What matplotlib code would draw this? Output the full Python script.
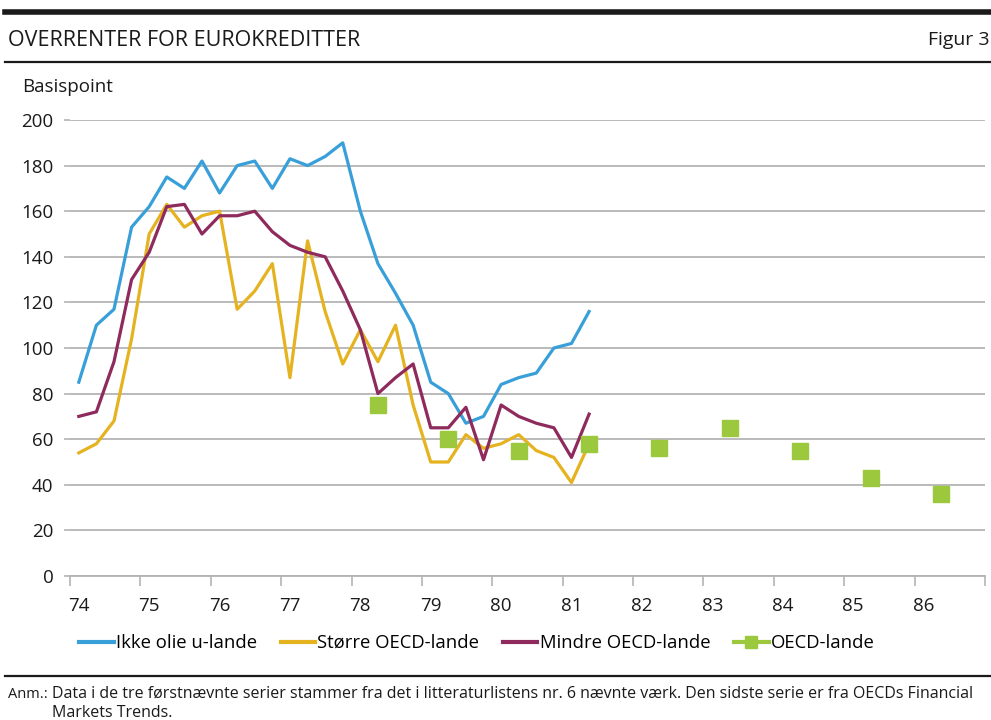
import numpy as np
import matplotlib
matplotlib.use("Agg")
import matplotlib.pyplot as plt
from matplotlib.lines import Line2D

plt.rcParams['font.family'] = ['Open Sans', 'DejaVu Sans']

# quarterly series 74Q1 - 81Q2
ikke_olie = [85, 110, 117, 153, 162, 175, 170, 182, 168, 180, 182, 170,
             183, 180, 184, 190, 160, 137, 124, 110, 85, 80, 67, 70,
             84, 87, 89, 100, 102, 116]
stoerre = [54, 58, 68, 104, 150, 163, 153, 158, 160, 117, 125, 137,
           87, 147, 116, 93, 108, 94, 110, 75, 50, 50, 62, 56,
           58, 62, 55, 52, 41, 58]
mindre = [70, 72, 94, 130, 142, 162, 163, 150, 158, 158, 160, 151,
          145, 142, 140, 125, 108, 80, 87, 93, 65, 65, 74, 51,
          75, 70, 67, 65, 52, 71]
# annual series, plotted at 2nd quarter
oecd_years = [78, 79, 80, 81, 82, 83, 84, 85, 86]
oecd = [75, 60, 55, 58, 56, 65, 55, 43, 36]

years = list(range(74, 87))
year_labels = [str(y) for y in years]

q = np.arange(len(ikke_olie))
xq = 74 + (q + 0.5) / 4.0
xo = np.array(oecd_years) + 1.5 / 4.0

c_blue = '#389fd9'
c_yel = '#e5b220'
c_pur = '#8e2a5c'
c_grn = '#9bc83c'
txt = '#1a1a1a'

W, H = 991, 720
fig = plt.figure(figsize=(W / 100, H / 100), dpi=100)

ax = fig.add_axes([70 / W, (H - 576) / H, 915 / W, 456 / H])
ax.plot(xq, ikke_olie, color=c_blue, lw=2.3, zorder=3)
ax.plot(xq, stoerre, color=c_yel, lw=2.3, zorder=3)
ax.plot(xq, mindre, color=c_pur, lw=2.3, zorder=3)
ax.plot(xo, oecd, ls='none', marker='s', ms=11, color=c_grn, zorder=4)

ax.set_xlim(74, 87)
ax.set_ylim(0, 200)
ax.set_yticks(range(0, 201, 20))
ax.yaxis.grid(True, color='#b4b4b4', lw=1.3)
ax.set_axisbelow(True)
ax.set_xticks(years + [87])
ax.set_xticklabels([])
ax.set_xticks(np.array(years) + 0.125, minor=True)
ax.set_xticklabels(year_labels, minor=True)
ax.tick_params(axis='x', which='major', length=7, width=1.2, color='#b4b4b4')
ax.tick_params(axis='x', which='minor', length=0, pad=15, labelsize=13.5, labelcolor=txt)
ax.tick_params(axis='y', length=4, width=1.2, color='#b4b4b4', pad=8,
               labelsize=13.5, labelcolor=txt)
for s in ['top', 'right', 'left']:
    ax.spines[s].set_visible(False)
ax.spines['bottom'].set_color('#b4b4b4')
ax.spines['bottom'].set_linewidth(1.3)

handles = [Line2D([], [], color=c_blue, lw=3),
           Line2D([], [], color=c_yel, lw=3),
           Line2D([], [], color=c_pur, lw=3),
           Line2D([], [], color=c_grn, lw=3, marker='s', ms=9)]
labels = ['Ikke olie u-lande', 'Større OECD-lande', 'Mindre OECD-lande', 'OECD-lande']
fig.legend(handles, labels, loc='center left', bbox_to_anchor=(72 / W, 1 - 643 / H),
           ncol=4, frameon=False, fontsize=13.3, handlelength=1.85,
           handletextpad=0.12, columnspacing=1.3, borderaxespad=0)

# header / footer
fig.add_artist(Line2D([5 / W, 1], [1 - 12 / H, 1 - 12 / H], color=txt, lw=4))
fig.add_artist(Line2D([5 / W, 1], [1 - 62 / H, 1 - 62 / H], color=txt, lw=1.6))
fig.add_artist(Line2D([5 / W, 1], [1 - 676 / H, 1 - 676 / H], color=txt, lw=1.6))
fig.text(8 / W, 1 - 40 / H, 'OVERRENTER FOR EUROKREDITTER', fontsize=15.5,
         va='center', ha='left', color=txt)
fig.text(990 / W, 1 - 40 / H, 'Figur 3', fontsize=14, va='center', ha='right', color=txt)
fig.text(22 / W, 1 - 87 / H, 'Basispoint', fontsize=13.5, va='center', ha='left', color=txt)
fig.text(8 / W, 1 - 694 / H, 'Anm.:', fontsize=10.5, va='center', ha='left', color=txt)
fig.text(52 / W, 1 - 694 / H,
         'Data i de tre førstnævnte serier stammer fra det i litteraturlistens nr. 6 nævnte værk. '
         'Den sidste serie er fra OECDs Financial',
         fontsize=11.5, va='center', ha='left', color=txt)
fig.text(52 / W, 1 - 713 / H, 'Markets Trends.', fontsize=11.5, va='center', ha='left', color=txt)

fig.savefig('out.png', dpi=100)
